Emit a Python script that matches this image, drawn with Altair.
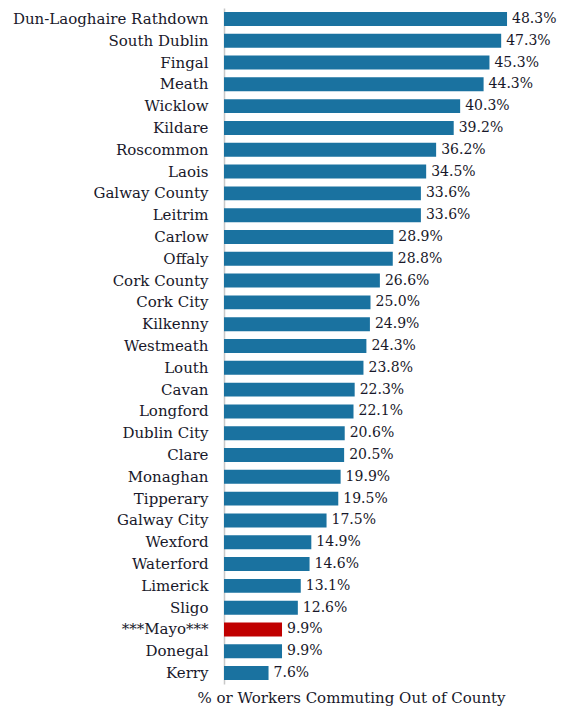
import altair as alt
import pandas as pd

counties = ["Dun-Laoghaire Rathdown", "South Dublin", "Fingal", "Meath", "Wicklow",
            "Kildare", "Roscommon", "Laois", "Galway County", "Leitrim", "Carlow",
            "Offaly", "Cork County", "Cork City", "Kilkenny", "Westmeath", "Louth",
            "Cavan", "Longford", "Dublin City", "Clare", "Monaghan", "Tipperary",
            "Galway City", "Wexford", "Waterford", "Limerick", "Sligo", "***Mayo***",
            "Donegal", "Kerry"]
values = [48.3, 47.3, 45.3, 44.3, 40.3, 39.2, 36.2, 34.5, 33.6, 33.6, 28.9, 28.8,
          26.6, 25.0, 24.9, 24.3, 23.8, 22.3, 22.1, 20.6, 20.5, 19.9, 19.5, 17.5,
          14.9, 14.6, 13.1, 12.6, 9.9, 9.9, 7.6]
highlight = ["***Mayo***"]

df = pd.DataFrame({"county": counties, "value": values})
df["label"] = df["value"].map(lambda v: f"{v:.1f}%")
df["hl"] = df["county"].isin(highlight)

FONT = "DejaVu Serif"
TXT = "#18182a"
FS = 15

y = alt.Y("county:N", sort=counties,
          scale=alt.Scale(paddingInner=0.36, paddingOuter=0.18),
          axis=alt.Axis(title=None, ticks=False, labelPadding=16, labelFont=FONT,
                        labelFontSize=FS, labelColor=TXT, labelLimit=0,
                        domainColor="#c8c8c8", domainWidth=1.5, grid=False))
x = alt.X("value:Q", scale=alt.Scale(domain=[0, 50], nice=False),
          axis=alt.Axis(title="% or Workers Commuting Out of County", labels=False,
                        ticks=False, domain=False, grid=False, titleFont=FONT,
                        titleFontSize=FS, titleFontWeight="normal", titleColor=TXT,
                        titleX=127, titleY=18, titleAlign="center",
                        titleBaseline="alphabetic"))

bars = alt.Chart(df).mark_bar().encode(
    x=x, y=y,
    color=alt.condition("datum.hl", alt.value("#c00000"), alt.value("#1a72a0")),
)
text = alt.Chart(df).mark_text(align="left", dx=5, font=FONT, fontSize=14,
                               color=TXT).encode(
    x="value:Q", y=alt.Y("county:N", sort=counties), text="label:N")

chart = (bars + text).properties(
    width=293, height=676,
    autosize=alt.AutoSizeParams(type="none"),
    padding={"left": 216, "top": 0, "right": 44, "bottom": 22},
).configure(background="white").configure_view(stroke=None)

chart.save("out.html", embed_options={"renderer": "svg", "actions": False})
